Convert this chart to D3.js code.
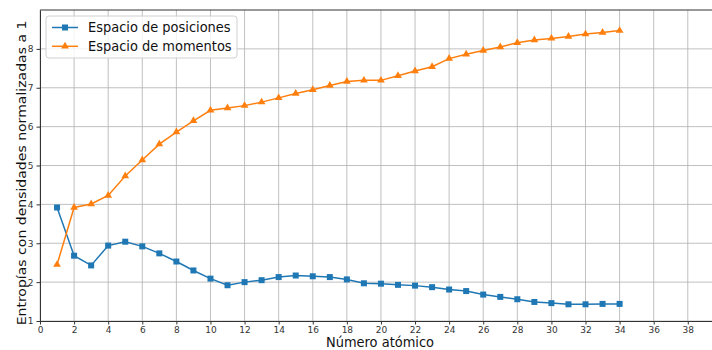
<!DOCTYPE html>
<html>
<head>
<meta charset="utf-8">
<script src="https://cdn.jsdelivr.net/npm/d3@7"></script>
<style>
  body { margin: 0; background: #fff; }
  svg { display: block; font-family: "DejaVu Sans", sans-serif; }
</style>
</head>
<body>
<div id="chart"></div>
<script>
// atomic numbers 1..34
const atomicNumbers = d3.range(1, 35);
const positionSeries = [3.92, 2.68, 2.43, 2.94, 3.04, 2.92, 2.74, 2.53, 2.30, 2.09,
  1.92, 2.00, 2.05, 2.13, 2.17, 2.15, 2.13, 2.07, 1.97, 1.96,
  1.93, 1.91, 1.87, 1.81, 1.77, 1.68, 1.62, 1.56, 1.49, 1.46,
  1.43, 1.43, 1.44, 1.44];
const momentumSeries = [2.45, 3.92, 4.01, 4.23, 4.73, 5.14, 5.55, 5.86, 6.15, 6.42,
  6.48, 6.54, 6.63, 6.74, 6.85, 6.95, 7.06, 7.16, 7.19, 7.19,
  7.31, 7.43, 7.54, 7.75, 7.86, 7.96, 8.05, 8.16, 8.23, 8.27,
  8.32, 8.38, 8.42, 8.47];
const xTicks = d3.range(0, 39, 2);
const yTicks = [1, 2, 3, 4, 5, 6, 7, 8];
const seriesNames = ["Espacio de posiciones", "Espacio de momentos"];

const width = 712, height = 350;
const margin = {top: 10, right: 0, bottom: 29, left: 40};

const svg = d3.select("#chart").append("svg")
  .attr("width", width).attr("height", height);

const x = d3.scaleLinear()
  .domain([0, 39.42])
  .range([margin.left, width - margin.right]);
const y = d3.scaleLinear()
  .domain([1, 9])
  .range([height - margin.bottom, margin.top]);

// grid
svg.append("g").selectAll("line").data(xTicks).join("line")
  .attr("x1", d => x(d)).attr("x2", d => x(d))
  .attr("y1", y(1)).attr("y2", y(9))
  .attr("stroke", "#b0b0b0").attr("stroke-width", 0.8);
svg.append("g").selectAll("line").data(yTicks).join("line")
  .attr("x1", x(0)).attr("x2", width)
  .attr("y1", d => y(d)).attr("y2", d => y(d))
  .attr("stroke", "#b0b0b0").attr("stroke-width", 0.8);

// axes
const xAxis = svg.append("g")
  .attr("transform", `translate(0,${y(1)})`)
  .call(d3.axisBottom(x).tickValues(xTicks).tickSize(3.5).tickPadding(2).tickSizeOuter(0));
const yAxis = svg.append("g")
  .attr("transform", `translate(${x(0)},0)`)
  .call(d3.axisLeft(y).tickValues(yTicks).tickSize(3.5).tickPadding(3).tickSizeOuter(0));
[xAxis, yAxis].forEach(g => {
  g.selectAll("text").attr("font-size", 9).attr("fill", "#333")
    .attr("font-family", "DejaVu Sans, sans-serif");
  g.selectAll("line").attr("stroke", "#333");
  g.select(".domain").attr("stroke", "#333");
});

// top spine
svg.append("line")
  .attr("x1", x(0)).attr("x2", width)
  .attr("y1", y(9)).attr("y2", y(9))
  .attr("stroke", "#333");

const line = d3.line().x((d, i) => x(atomicNumbers[i])).y(d => y(d));
const colors = ["#1f77b4", "#ff7f0e"];

svg.append("path").datum(positionSeries)
  .attr("d", line).attr("fill", "none").attr("stroke", colors[0]).attr("stroke-width", 1.5);
svg.append("g").selectAll("rect").data(positionSeries).join("rect")
  .attr("x", (d, i) => x(atomicNumbers[i]) - 3)
  .attr("y", d => y(d) - 3)
  .attr("width", 6).attr("height", 6)
  .attr("fill", colors[0]);

svg.append("path").datum(momentumSeries)
  .attr("d", line).attr("fill", "none").attr("stroke", colors[1]).attr("stroke-width", 1.5);
const tri = d3.symbol().type(d3.symbolTriangle).size(26);
svg.append("g").selectAll("path").data(momentumSeries).join("path")
  .attr("transform", (d, i) => `translate(${x(atomicNumbers[i])},${y(d)})`)
  .attr("d", tri)
  .attr("fill", colors[1]);

// labels (source image is slightly stretched vertically)
svg.append("text")
  .attr("transform", "translate(380,347) scale(1,1.08)")
  .attr("text-anchor", "middle").attr("font-size", 13).attr("fill", "#111")
  .text("Número atómico");
svg.append("text")
  .attr("transform", "translate(26,173) rotate(-90) scale(1.08,1)")
  .attr("text-anchor", "middle").attr("font-size", 13).attr("fill", "#111")
  .text("Entropías con densidades normalizadas a 1");

// legend
const legend = svg.append("g").attr("transform", "translate(46,16)");
legend.append("rect")
  .attr("width", 191).attr("height", 42).attr("rx", 3)
  .attr("fill", "#fff").attr("fill-opacity", 0.8)
  .attr("stroke", "#d0d0d0");
seriesNames.forEach((name, i) => {
  const g = legend.append("g").attr("transform", `translate(0,${11.5 + i * 18.8})`);
  g.append("line").attr("x1", 6).attr("x2", 32).attr("stroke", colors[i]).attr("stroke-width", 1.5);
  if (i === 0) {
    g.append("rect").attr("x", 16).attr("y", -3).attr("width", 6).attr("height", 6).attr("fill", colors[i]);
  } else {
    g.append("path").attr("transform", "translate(19,0)").attr("d", tri).attr("fill", colors[i]);
  }
  g.append("text").attr("transform", "translate(42,0) scale(1,1.08)").attr("dy", "0.35em")
    .attr("font-size", 13).attr("fill", "#111").text(name);
});
</script>
</body>
</html>
